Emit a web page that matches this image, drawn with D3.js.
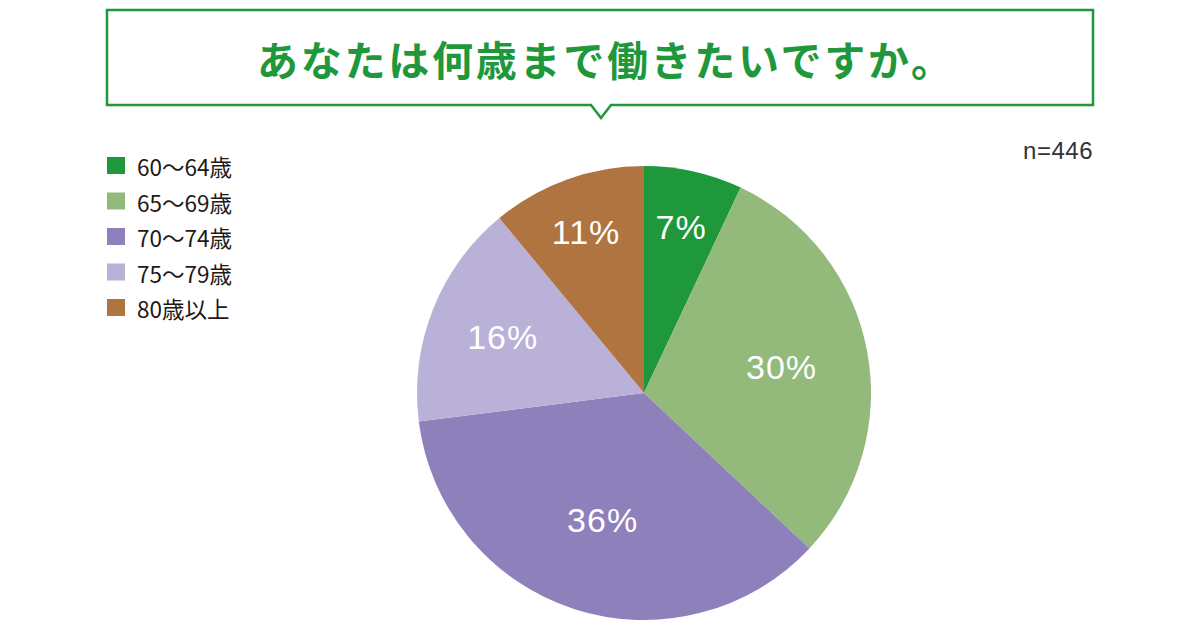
<!DOCTYPE html>
<html>
<head>
<meta charset="utf-8">
<script src="https://cdn.jsdelivr.net/npm/d3@7"></script>
<style>
  body { margin: 0; background: #fff; }
  svg { display: block; }
</style>
</head>
<body>
<div id="chart-area"></div>
<script>
const SVG_WIDTH = 1200
const SVG_HEIGHT = 630

const CATEGORIES = ["60～64歳", "65～69歳", "70～74歳", "75～79歳", "80歳以上"]
const VALUES = [7, 30, 36, 16, 11]
const COLORS = ["#1e983b", "#93b97b", "#8e80bb", "#bab1d8", "#b07440"]
const TITLE = "あなたは何歳まで働きたいですか。"
const N_LABEL = "n=446"

const GREEN = "#1e983b"
const CENTER = { x: 644, y: 393 }
const RADIUS = 227
// labels sit at different distances in the original, small slices pushed outward
const LABEL_R = [170, 140, 134, 152, 171]

const svg = d3.select("#chart-area").append("svg")
  .attr("width", SVG_WIDTH)
  .attr("height", SVG_HEIGHT)

// speech-bubble title box
const box = { x0: 107, x1: 1093, y0: 10, y1: 105, px: 601, pw: 10, ph: 13 }
svg.append("path")
  .attr("d", `M${box.x0},${box.y0} H${box.x1} V${box.y1} H${box.px + box.pw} L${box.px},${box.y1 + box.ph} L${box.px - box.pw},${box.y1} H${box.x0} Z`)
  .attr("fill", "#fff")
  .attr("stroke", GREEN)
  .attr("stroke-width", 2.5)

svg.append("text")
  .attr("x", 257)
  .attr("y", 58)
  .attr("dominant-baseline", "central")
  .attr("font-family", "'Noto Sans CJK JP', sans-serif")
  .attr("font-weight", 700)
  .attr("font-size", "41px")
  .attr("fill", GREEN)
  .attr("textLength", 695)
  .attr("lengthAdjust", "spacing")
  .text(TITLE)

svg.append("text")
  .attr("x", 1093)
  .attr("y", 159)
  .attr("text-anchor", "end")
  .attr("font-family", "'Liberation Sans', Arial, sans-serif")
  .attr("font-size", "24px")
  .attr("letter-spacing", "0.5px")
  .attr("fill", "#333")
  .text(N_LABEL)

// legend
const legend = svg.append("g")
  .attr("transform", "translate(107, 157)")

const items = legend.selectAll("g")
  .data(CATEGORIES)
  .enter().append("g")
  .attr("transform", (d, i) => `translate(0, ${i * 35.5})`)

items.append("rect")
  .attr("width", 18)
  .attr("height", 17)
  .attr("fill", (d, i) => COLORS[i])

items.append("text")
  .attr("x", 30)
  .attr("y", 9)
  .attr("dominant-baseline", "central")
  .attr("font-family", "'Noto Sans CJK JP', sans-serif")
  .attr("font-size", "22.5px")
  .attr("fill", "#231815")
  .text(d => d)

// pie
const pie = d3.pie()
  .sort(null)
  .value(d => d)

const arc = d3.arc()
  .innerRadius(0)
  .outerRadius(RADIUS)

const g = svg.append("g")
  .attr("transform", `translate(${CENTER.x}, ${CENTER.y})`)

const arcs = pie(VALUES)

g.selectAll("path")
  .data(arcs)
  .enter().append("path")
  .attr("d", arc)
  .attr("fill", (d, i) => COLORS[i])

g.selectAll("text")
  .data(arcs)
  .enter().append("text")
  .attr("transform", (d, i) => {
    const a = (d.startAngle + d.endAngle) / 2
    return `translate(${Math.sin(a) * LABEL_R[i]}, ${-Math.cos(a) * LABEL_R[i]})`
  })
  .attr("text-anchor", "middle")
  .attr("dominant-baseline", "central")
  .attr("font-family", "'Liberation Sans', Arial, sans-serif")
  .attr("font-size", "34px")
  .attr("letter-spacing", "1px")
  .attr("fill", "#fff")
  .text(d => d.data + "%")
</script>
</body>
</html>
